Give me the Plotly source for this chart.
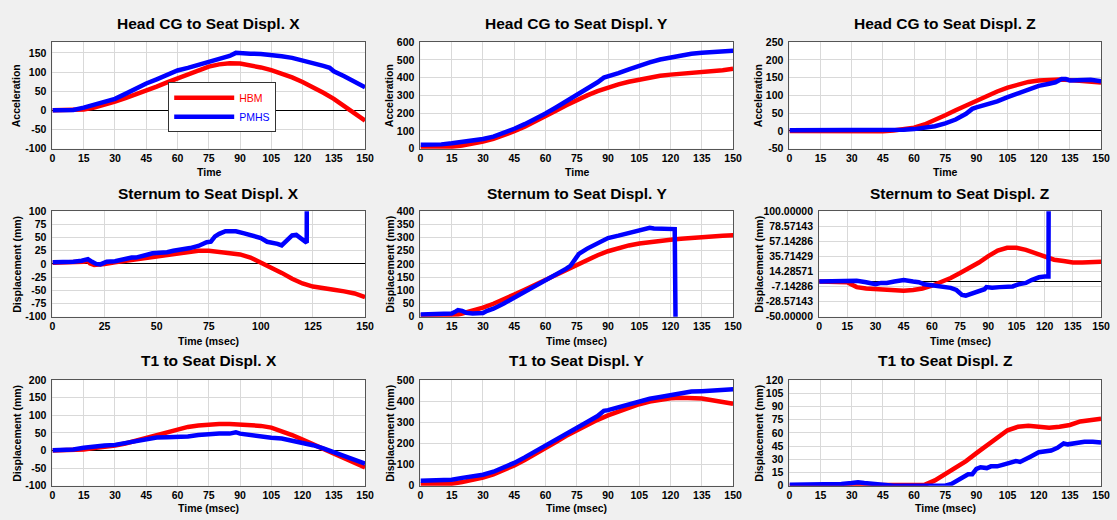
import plotly.graph_objects as go

W, H = 1117, 520

# ---------------- data ----------------
# Head CG X
hx_t_hbm = [0,5,10,15,20,25,30,35,40,45,50,55,60,65,70,75,80,85,90,95,100,105,110,115,120,125,130,135,140,145,150]
hx_hbm = [0,0,0,2,7,14,23,32,41,51,62,73,84,95,105,114,120,123,122,118,112,105,96,86,74,61,46,30,11,-8,-27]
hx_t_pmhs = [0,5,10,15,20,25,30,35,40,45,50,55,60,65,70,75,80,85,88,90,95,100,105,110,115,120,125,130,133,135,140,145,150]
hx_pmhs = [0,0,1,7,14,21,30,43,58,70,81,93,104,111,119,126,133,142,150,150,148,147,145,141,137,131,124,116,111,102,89,76,60]

# Head CG Y
hy_t = [0,5,10,15,20,25,30,35,40,45,50,55,60,65,70,75,80,85,90,95,100,105,110,115,120,125,130,135,140,145,150]
hy_hbm = [5,5,6,10,18,28,40,55,75,98,124,152,182,213,244,274,300,324,345,362,377,390,402,411,417,421,424,428,434,442,450]
hy_t_pmhs = [0,5,10,15,20,25,30,35,40,45,50,55,60,65,70,75,80,85,88,90,95,100,105,110,115,120,125,130,135,140,145,150]
hy_pmhs = [22,22,24,30,38,45,54,68,88,112,138,167,198,232,266,303,340,374,400,406,425,447,469,486,502,514,524,535,540,545,549,551]

# Head CG Z
hz_t_hbm = [0,5,10,15,20,25,30,35,40,45,50,55,60,65,70,75,80,85,90,95,100,105,110,115,120,125,130,135,140,145,150]
hz_hbm = [0,0,0,0,-1,-2,-3,-3,-2,-1,1,4,9,18,30,44,58,72,86,99,111,122,131,138,142,144,145,143,141,139,136]
hz_t_pmhs = [0,5,10,15,20,25,30,35,40,45,50,55,60,65,70,75,80,85,88,90,95,100,105,110,115,120,125,128,131,133,135,140,145,150]
hz_pmhs = [2,2,2,2,2,1,1,1,2,2,3,3,5,8,13,21,32,48,62,66,73,83,95,106,117,127,133,137,146,146,142,143,144,140]

# Sternum X
sx_t_hbm = [0,5,10,15,17,18,20,22,25,30,35,40,45,50,55,60,65,70,75,80,85,90,95,100,105,110,115,120,125,130,135,140,145,150]
sx_hbm = [2,2,3,4,6,1,-2,-2,0,3,6,9,12,15,18,21,24,25,25,23,21,18,12,3,-8,-17,-28,-37,-43,-47,-49,-52,-56,-63]
sx_t_pmhs = [0,5,10,14,16,17,19,21,23,26,30,33,35,38,40,43,45,48,52,55,58,62,66,70,72,74,76,78,80,83,86,88,92,96,100,103,106,108,110,112,115,117,120,122,122.2]
sx_pmhs = [3,3,4,6,9,9,4,0,-1,4,5,8,11,12,12,14,17,20,20,22,25,27,30,34,38,41,42,52,57,62,62,62,58,54,49,42,40,38,35,42,54,55,47,40,400]

# Sternum Y
sy_t_hbm = [0,5,10,15,18,20,25,30,35,40,45,50,55,60,65,70,75,80,85,90,95,100,105,110,115,120,125,130,135,140,145,150]
sy_hbm = [5,5,5,6,8,12,22,34,49,65,84,102,121,140,160,180,198,216,233,248,260,270,277,283,288,292,295,299,302,305,307,309]
sy_t_pmhs = [0,5,10,15,17,18,20,22,25,28,30,32,35,40,45,50,55,60,65,70,72,74,76,80,85,88,90,95,100,105,110,112,115,120,122,122.5]
sy_pmhs = [8,8,9,12,20,25,22,15,12,12,14,22,30,50,72,92,112,134,157,182,193,215,238,258,278,292,298,307,316,327,337,334,334,335,332,-100]

# Sternum Z
sz_t_hbm = [0,5,10,15,17,20,25,30,35,40,45,50,55,60,65,70,75,80,85,90,95,100,105,110,115,120,125,130,135,140,145,150]
sz_hbm = [0,0,0,-1,-4,-8,-10,-11,-12,-13,-13,-12,-10,-6,-1,5,12,19,27,36,44,48,48,45,40,35,31,29,27,27,27,28]
sz_t_pmhs = [0,5,10,15,18,20,25,30,33,36,40,45,50,53,56,60,65,70,73,76,78,80,85,88,89,92,96,100,103,106,110,113,117,120,122,122.3]
sz_pmhs = [0,0,0,0,0,1,-1,-4,-2,-2,0,2,0,-1,-4,-5,-7,-9,-12,-19,-20,-18,-14,-11,-8,-9,-8,-8,-7,-4,-2,2,6,7,7,300]

# T1 X
tx_t = [0,5,10,15,20,25,30,35,40,45,50,55,60,65,70,75,80,85,90,95,100,105,110,115,120,125,130,135,140,145,150]
tx_hbm = [0,0,1,3,7,10,14,20,28,37,45,53,61,67,71,74,75,75,74,73,70,65,56,44,31,18,4,-9,-22,-35,-48]
tx_t_pmhs = [0,5,10,15,20,25,30,35,40,45,50,55,60,65,70,75,80,85,88,90,95,100,105,110,115,120,125,130,135,140,145,150]
tx_pmhs = [1,1,3,8,12,14,16,21,28,33,37,38,38,40,44,47,48,48,52,48,44,38,36,34,28,21,15,6,-4,-15,-25,-37]

# T1 Y
ty_t = [0,5,10,15,20,25,30,35,40,45,50,55,60,65,70,75,80,85,90,95,100,105,110,115,120,125,130,135,140,145,150]
ty_hbm = [5,5,6,9,17,27,38,53,73,96,122,149,177,207,236,263,288,312,333,352,370,386,399,408,414,417,417,413,405,397,388]
ty_t_pmhs = [0,5,10,15,20,25,30,35,40,45,50,55,60,65,70,75,80,85,88,90,95,100,105,110,115,120,125,130,135,140,145,150]
ty_pmhs = [23,23,24,28,37,44,52,66,85,108,134,161,190,220,248,275,302,330,355,358,372,386,402,412,420,430,436,446,448,451,455,457]

# T1 Z
tz_t_hbm = [0,30,60,63,65,70,75,80,85,90,95,100,105,110,115,120,125,130,135,140,145,150]
tz_hbm = [0,0,0,0,1,6,13,20,28,37,46,55,63,67,68,67,66,67,69,73,75,76]
tz_t_pmhs = [0,5,10,15,20,25,30,33,36,40,45,50,55,60,65,70,75,78,80,83,86,88,90,92,95,97,100,103,106,109,111,113,116,120,123,126,129,132,134,138,142,146,150]
tz_pmhs = [1,1,1,1,1,2,3,4,3,2,1,0,0,0,0,0,0,2,5,9,13,13,19,21,20,22,22,24,26,28,27,30,33,38,39,40,43,48,47,49,50,50,49]

# axes / ticks
titles = ["Head CG to Seat Displ. X", "Head CG to Seat Displ. Y", "Head CG to Seat Displ. Z",
          "Sternum to Seat Displ. X", "Sternum to Seat Displ. Y", "Sternum to Seat Displ. Z",
          "T1 to Seat Displ. X", "T1 to Seat Displ. Y", "T1 to Seat Displ. Z"]
xlabels = ["Time", "Time", "Time",
           "Time (msec)", "Time (msec)", "Time (msec)",
           "Time (msec)", "Time (msec)", "Time (msec)"]
ylabels = ["Acceleration", "Acceleration", "Acceleration",
           "Displacement (mm)", "Displacement (mm)", "Displacement (mm)",
           "Displacement (mm)", "Displacement (mm)", "Displacement (mm)"]
x_ticks_15 = [0, 15, 30, 45, 60, 75, 90, 105, 120, 135, 150]
x_ticks_25 = [0, 25, 50, 75, 100, 125, 150]
hx_yticks = [-100, -50, 0, 50, 100, 150]
hy_yticks = [0, 100, 200, 300, 400, 500, 600]
hz_yticks = [-50, 0, 50, 100, 150, 200, 250]
sx_yticks = [-100, -75, -50, -25, 0, 25, 50, 75, 100]
sy_yticks = [0, 50, 100, 150, 200, 250, 300, 350, 400]
sz_yticks = [-50.0, -28.57143, -7.14286, 14.28571, 35.71429, 57.14286, 78.57143, 100.0]
tx_yticks = [-100, -50, 0, 50, 100, 150, 200]
ty_yticks = [0, 100, 200, 300, 400, 500]
tz_yticks = [0, 15, 30, 45, 60, 75, 90, 105, 120]
y_ranges = [[-100, 178], [0, 600], [-50, 250],
            [-100, 100], [0, 400], [-50, 100],
            [-100, 200], [0, 500], [0, 120]]

series = [
    (hx_t_hbm, hx_hbm, hx_t_pmhs, hx_pmhs),
    (hy_t, hy_hbm, hy_t_pmhs, hy_pmhs),
    (hz_t_hbm, hz_hbm, hz_t_pmhs, hz_pmhs),
    (sx_t_hbm, sx_hbm, sx_t_pmhs, sx_pmhs),
    (sy_t_hbm, sy_hbm, sy_t_pmhs, sy_pmhs),
    (sz_t_hbm, sz_hbm, sz_t_pmhs, sz_pmhs),
    (tx_t, tx_hbm, tx_t_pmhs, tx_pmhs),
    (ty_t, ty_hbm, ty_t_pmhs, ty_pmhs),
    (tz_t_hbm, tz_hbm, tz_t_pmhs, tz_pmhs),
]
yticks_all = [hx_yticks, hy_yticks, hz_yticks, sx_yticks, sy_yticks, sz_yticks, tx_yticks, ty_yticks, tz_yticks]
xticks_all = [x_ticks_15, x_ticks_15, x_ticks_15, x_ticks_25, x_ticks_15, x_ticks_15, x_ticks_15, x_ticks_15, x_ticks_15]

# ---------------- layout (pixels) ----------------
row_px = [(37, 146), (210, 318), (383, 491)]
col_px = [(50, 366), (422, 738), (795, 1110)]
title_y_px = [18, 192, 363]
xlab_y_px = [170, 343, 514]
ylab_x_px = [14, 391, 764]

FONT = "Liberation Sans, Arial, sans-serif"
RED = "#ff0000"
BLUE = "#0000ff"

fig = go.Figure()
layout = dict(
    width=W, height=H,
    margin=dict(l=0, r=0, t=0, b=0),
    paper_bgcolor="#f0f0f0",
    plot_bgcolor="#ffffff",
    font=dict(family=FONT, color="#000000"),
    showlegend=True,
    legend=dict(x=167 / W, y=1 - 78 / H, xanchor="left", yanchor="top",
                bgcolor="#ffffff", bordercolor="#333333", borderwidth=1,
                font=dict(family=FONT, size=10.5), tracegroupgap=0,
                itemwidth=60),
)
annotations = []

for i in range(9):
    r, c = divmod(i, 3)
    k = i + 1
    x0, x1 = col_px[c]
    if i == 5:
        x0 = 825
    y0, y1 = row_px[r]
    th, vh, tp, vp = series[i]
    fig.add_trace(go.Scatter(x=th, y=vh, mode="lines", line=dict(color=RED, width=4.5),
                             name="<span style='color:#ff0000'>HBM</span>",
                             showlegend=(i == 0), xaxis=f"x{k}", yaxis=f"y{k}"))
    fig.add_trace(go.Scatter(x=tp, y=vp, mode="lines", line=dict(color=BLUE, width=4.5),
                             name="<span style='color:#0000ff'>PMHS</span>",
                             showlegend=(i == 0), xaxis=f"x{k}", yaxis=f"y{k}"))
    yt = yticks_all[i]
    if i == 5:
        ytext = [f"{v:.5f}" for v in yt]
    else:
        ytext = [str(v) for v in yt]
    layout[f"xaxis{k}"] = dict(
        domain=[x0 / W, x1 / W], anchor=f"y{k}", range=[0, 150],
        tickvals=xticks_all[i], ticktext=[str(v) for v in xticks_all[i]],
        showgrid=True, gridcolor="#d9d9d9", gridwidth=1,
        zeroline=False, showline=True, mirror=True, linecolor="#555555", linewidth=1,
        ticks="", ticklabelstandoff=0,
        tickfont=dict(family=FONT, size=10.5, weight="bold", color="#000000"),
    )
    layout[f"yaxis{k}"] = dict(
        domain=[1 - y1 / H, 1 - y0 / H], anchor=f"x{k}", range=y_ranges[i],
        tickvals=yt, ticktext=ytext,
        showgrid=True, gridcolor="#d9d9d9", gridwidth=1,
        zeroline=True, zerolinecolor="#000000", zerolinewidth=1,
        showline=True, mirror=True, linecolor="#555555", linewidth=1,
        ticks="", ticklabelstandoff=3,
        tickfont=dict(family=FONT, size=10.5, weight="bold", color="#000000"),
    )
    cx = (x0 + x1) / 2
    cy = (y0 + y1) / 2
    annotations.append(dict(text=titles[i], x=cx / W, y=1 - title_y_px[r] / H, xref="paper", yref="paper",
                            xanchor="center", yanchor="middle", showarrow=False,
                            font=dict(family=FONT, size=15.5, weight="bold", color="#000000")))
    annotations.append(dict(text=xlabels[i], x=cx / W, y=1 - xlab_y_px[r] / H, xref="paper", yref="paper",
                            xanchor="center", yanchor="middle", showarrow=False,
                            font=dict(family=FONT, size=10.5, weight="bold", color="#000000")))
    annotations.append(dict(text=ylabels[i], x=ylab_x_px[c] / W, y=1 - cy / H, xref="paper", yref="paper",
                            xanchor="center", yanchor="middle", showarrow=False, textangle=-90,
                            font=dict(family=FONT, size=10.5, weight="bold", color="#000000")))

layout["annotations"] = annotations
fig.update_layout(**layout)
fig.write_html("out.html")
